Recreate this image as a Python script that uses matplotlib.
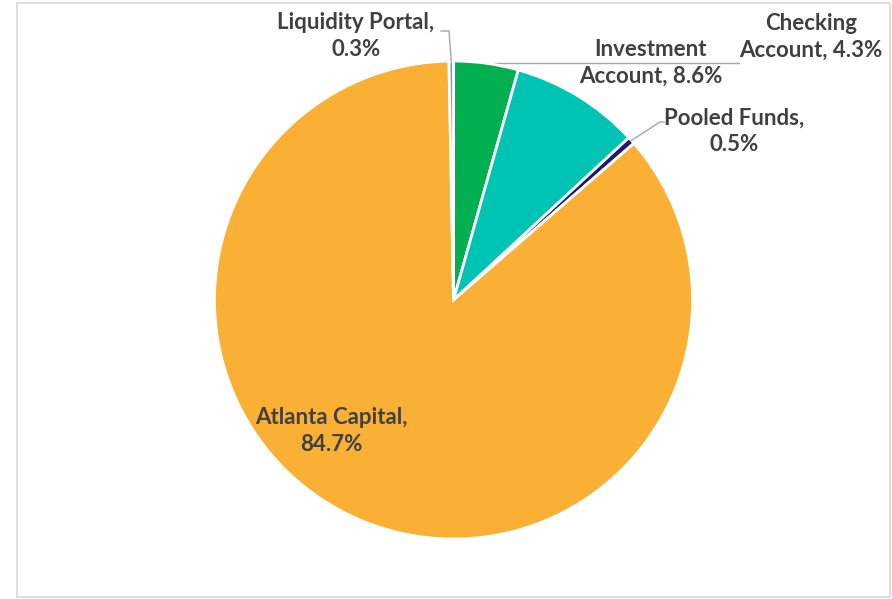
import numpy as np
import matplotlib.pyplot as plt
from matplotlib.patches import Rectangle

W, H = 892, 599

labels = ["Checking Account", "Investment Account", "Pooled Funds",
          "Atlanta Capital", "Liquidity Portal"]
label_text = ["Checking\nAccount, 4.3%", "Investment\nAccount, 8.6%",
              "Pooled Funds,\n0.5%", "Atlanta Capital,\n84.7%",
              "Liquidity Portal,\n0.3%"]
shares = [4.3, 8.6, 0.5, 84.7, 0.3]
colors = ["#00B050", "#00C4B3", "#1F1A6E", "#FAAF35", "#5BA6CF"]

TEXT_COLOR = "#404040"
LINE_COLOR = "#A6A6A6"
CENTER = (453.5, H - 300)
RADIUS = 239

plt.rcParams['font.family'] = ['Lato', 'DejaVu Sans']

fig = plt.figure(figsize=(W / 100, H / 100), dpi=100)
ax = fig.add_axes([0, 0, 1, 1])

fig.patches.append(Rectangle((17 / W, 2 / H), 873 / W, 594 / H,
                             transform=fig.transFigure, fill=False,
                             edgecolor="#D9D9D9", lw=1.2))

wedges, _ = ax.pie(shares, colors=colors, startangle=90, counterclock=False,
                   center=CENTER, radius=RADIUS, frame=True,
                   wedgeprops=dict(edgecolor="white", linewidth=2))
ax.set_xlim(0, W)
ax.set_ylim(0, H)
ax.set_aspect('equal')
ax.axis('off')

# mid-angle point on the rim for each wedge (for leader lines)
def rim_point(w):
    a = np.deg2rad((w.theta1 + w.theta2) / 2)
    return CENTER[0] + RADIUS * np.cos(a), CENTER[1] + RADIUS * np.sin(a)

# label block centres in pixel coords (x, y from top)
label_pos = [(811, 37), (651, 63), (734, 131), (331, 431), (356, 36)]
fs = 16

for txt, (px, py) in zip(label_text, label_pos):
    ax.text(px, H - py, txt, ha='center', va='center', fontsize=fs,
            fontweight='bold', color=TEXT_COLOR, linespacing=1.3)

# leader lines
x0, y0 = rim_point(wedges[0])
ax.plot([x0, 739], [y0, y0], color=LINE_COLOR, lw=1, zorder=0.5)

x2, y2 = rim_point(wedges[2])
ax.plot([x2, 660, 664], [y2, H - 122, H - 122], color=LINE_COLOR, lw=1)

x4, y4 = rim_point(wedges[4])
ax.plot([x4, 449, 441], [y4, H - 31, H - 31], color=LINE_COLOR, lw=1)

fig.savefig("out.png", dpi=100)
